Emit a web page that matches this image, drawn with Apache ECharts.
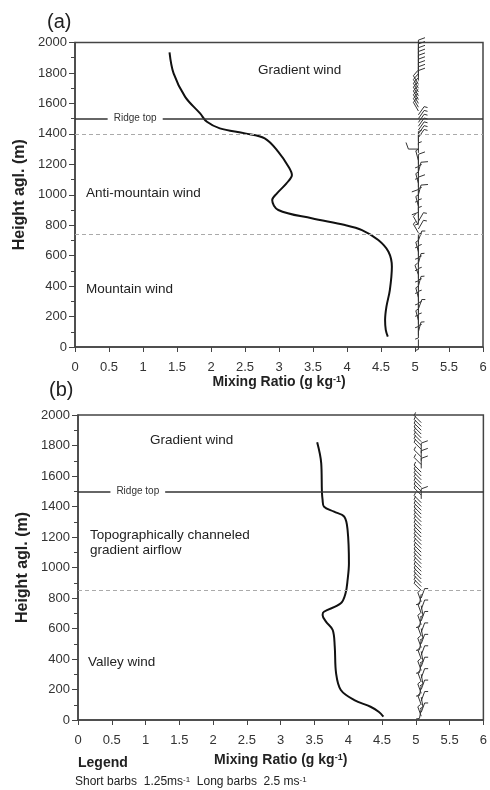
<!DOCTYPE html>
<html><head><meta charset="utf-8">
<script src="https://cdn.jsdelivr.net/npm/echarts@6/dist/echarts.min.js"></script>
<style>html,body{margin:0;padding:0;background:#fff}#c{width:490px;height:790px}</style>
</head><body><div id="c"></div>
<script>
// ---- Data ----
// Panel (a): mixing-ratio profile
var heightA = [68,112,177,265,374,527,626,703,768,801,845,900,965,1009,1075,1129,1184,1282,1370,1403,1436,1479,1534,1643,1797,1935];
var mixA    = [4.60,4.57,4.56,4.58,4.63,4.66,4.61,4.46,4.22,3.97,3.48,2.99,2.90,2.97,3.11,3.19,3.14,2.99,2.79,2.50,2.13,1.94,1.84,1.62,1.45,1.39];
// Panel (b): mixing-ratio profile
var heightB = [22,54,87,131,197,306,481,590,645,689,710,765,831,918,1027,1246,1333,1366,1399,1443,1500,1683,1821];
var mixB    = [4.52,4.45,4.33,4.09,3.89,3.82,3.80,3.77,3.67,3.62,3.64,3.89,3.96,3.99,4.01,3.99,3.94,3.79,3.64,3.62,3.61,3.60,3.54];

// Wind barbs panel (a): height (m), direction (deg, 0 = staff up), speed (m/s)
var barbHA = [50,75,100,125,150,175,200,225,250,275,300,325,350,375,400,425,450,475,500,525,550,575,600,625,650,675,700,725,750,775,800,825,850,875,900,925,950,975,1000,1025,1050,1075,1100,1125,1150,1175,1200,1225,1250,1275,1300,1325,1350,1375,1400,1425,1450,1475,1500,1525,1550,1575,1600,1625,1650,1675,1700,1725,1750,1775,1800,1825,1850,1875,1900,1925,1950];
var barbDirA = [180,0,15,180,0,345,180,0,20,180,0,345,180,0,15,180,0,340,180,0,15,180,0,345,180,0,20,180,330,30,330,30,0,180,0,345,180,0,15,180,0,345,180,0,15,180,0,345,180,0,270,0,0,35,35,35,35,35,35,35,330,330,330,330,330,330,330,330,0,0,0,0,0,0,0,0,0];
var barbSpdA = [1.25,1.25,1.25,1.25,1.25,1.25,1.25,1.25,1.25,1.25,1.25,1.25,1.25,1.25,1.25,1.25,1.25,1.25,1.25,1.25,1.25,1.25,1.25,1.25,1.25,1.25,1.25,1.25,1.25,1.25,1.25,1.25,1.25,1.25,1.25,1.25,2.5,1.25,2.5,1.25,2.5,1.25,2.5,1.25,2.5,1.25,2.5,1.25,1.25,1.25,2.5,1.25,1.25,1.25,1.25,1.25,1.25,1.25,1.25,1.25,2.5,2.5,2.5,2.5,2.5,2.5,2.5,2.5,2.5,2.5,2.5,2.5,2.5,2.5,2.5,2.5,2.5];
// Wind barbs panel (b)
var barbHB = [25,50,75,100,125,150,175,200,225,250,275,300,325,350,375,400,425,450,475,500,525,550,575,600,625,650,675,700,725,750,775,800,825,850,875,900,925,950,975,1000,1025,1050,1075,1100,1125,1150,1175,1200,1225,1250,1275,1300,1325,1350,1375,1400,1425,1450,1475,1500,1525,1550,1575,1600,1625,1650,1675,1700,1725,1750,1775,1800,1825,1850,1875,1900,1925,1950];
var barbDirB = [340,20,190,340,20,170,340,20,190,340,20,170,340,20,190,340,20,170,340,20,190,340,20,170,340,20,190,340,20,170,340,20,190,315,315,315,315,315,315,315,315,315,315,315,315,315,315,315,315,315,315,315,315,315,315,315,315,0,315,315,315,315,315,315,315,0,315,0,315,0,315,315,315,315,315,315,315,315];
var barbSpdB = [1.25,1.25,1.25,1.25,1.25,1.25,1.25,1.25,1.25,1.25,1.25,1.25,1.25,1.25,1.25,1.25,1.25,1.25,1.25,1.25,1.25,1.25,1.25,1.25,1.25,1.25,1.25,1.25,1.25,1.25,1.25,1.25,1.25,1.25,1.25,1.25,1.25,1.25,1.25,1.25,1.25,1.25,1.25,1.25,1.25,1.25,1.25,1.25,1.25,1.25,1.25,1.25,1.25,1.25,1.25,1.25,1.25,2.5,1.25,1.25,1.25,1.25,1.25,1.25,1.25,2.5,1.25,2.5,1.25,2.5,1.25,1.25,1.25,1.25,1.25,1.25,1.25,1.25];

var xTicks = [0,0.5,1,1.5,2,2.5,3,3.5,4,4.5,5,5.5,6];
var ridgeTop = 1500;
var dashedA = [1395, 742];
var dashedB = [850];

// ---- Config ----
var FONT = 'Liberation Sans, Arial, sans-serif';
var AXC = '#444';
var barbXA = 5.05, barbXB = 5.08;

function zipXY(xs, ys){ return xs.map(function(v,i){ return [v, ys[i]]; }); }
function barbData(x, hs, ds, ss){ return hs.map(function(h,i){ return [x, h, ds[i], ss[i]]; }); }

function barbItem(params, api){
  var p = api.coord([api.value(0), api.value(1)]);
  var d = api.value(2) * Math.PI / 180;
  var spd = api.value(3);
  var L = 10;
  var ux = Math.sin(d), uy = -Math.cos(d);
  var ex = p[0] + ux * L, ey = p[1] + uy * L;
  var fl = spd >= 2.5 ? 7 : 3.5;
  var a = 70 * Math.PI / 180;
  var fx = ux * Math.cos(a) - uy * Math.sin(a), fy = ux * Math.sin(a) + uy * Math.cos(a);
  return {
    type: 'polyline',
    shape: { points: [[p[0], p[1]], [ex, ey], [ex + fx * fl, ey + fy * fl]] },
    style: { stroke: '#333', lineWidth: 1, fill: null }
  };
}

function ridgeMark(){
  return [
    [{coord:[0, ridgeTop]}, {coord:[0.48, ridgeTop]}],
    [{coord:[1.29, ridgeTop]}, {coord:[6, ridgeTop]}]
  ];
}

function xAxisCfg(idx, gap){
  return {
    gridIndex: idx, type: 'value', min: 0, max: 6, interval: 0.5,
    name: 'Mixing Ratio (g kg{sup|-1})', nameLocation: 'middle', nameGap: gap,
    nameTextStyle: { fontFamily: FONT, fontSize: 14, fontWeight: 'bold', color: '#222',
      rich: { sup: { fontFamily: FONT, fontSize: 9, fontWeight: 'bold', color: '#222', verticalAlign: 'top', padding: [0,0,6,0] } } },
    axisLine: { show: true, onZero: false, lineStyle: { color: AXC, width: 1.5 } },
    axisTick: { show: true, length: 5, lineStyle: { color: AXC } },
    axisLabel: { fontFamily: FONT, fontSize: 13, color: '#333', margin: 14,
      formatter: function(v){ return xTicks.indexOf(v) >= 0 ? String(v) : ''; } },
    splitLine: { show: false }
  };
}
function yAxisCfg(idx){
  return {
    gridIndex: idx, type: 'value', min: 0, max: 2000, interval: 200,
    name: 'Height agl. (m)', nameLocation: 'middle', nameGap: 47, nameRotate: 90,
    nameTextStyle: { fontFamily: FONT, fontSize: 16, fontWeight: 'bold', color: '#222' },
    axisLine: { show: true, lineStyle: { color: AXC, width: 1.5 } },
    axisTick: { show: true, length: 6, lineStyle: { color: AXC } },
    minorTick: { show: true, splitNumber: 2, length: 4, lineStyle: { color: AXC } },
    axisLabel: { fontFamily: FONT, fontSize: 13, color: '#333', margin: 8,
      formatter: function(v){ return String(v); } },
    splitLine: { show: false }
  };
}

function profileSeries(idx, data, dashed){
  var ml = ridgeMark();
  dashed.forEach(function(h){
    ml.push({ yAxis: h, lineStyle: { type: [4,3], color: '#aaa', width: 1 } });
  });
  return {
    type: 'line', xAxisIndex: idx, yAxisIndex: idx, data: data,
    smooth: 0.35, symbol: 'none', lineStyle: { color: '#111', width: 2 },
    z: 3, silent: true,
    markLine: { silent: true, symbol: 'none', label: { show: false },
      lineStyle: { color: '#333', width: 1.5, type: 'solid' }, data: ml },
    markPoint: { silent: true, symbol: 'circle', symbolSize: 0,
      label: { show: true, position: 'inside', formatter: 'Ridge top', fontFamily: FONT, fontSize: 10, color: '#333' },
      data: [{ coord: [0.885, ridgeTop] }] }
  };
}

function txt(x, y, s, size, bold){
  return { type: 'text', x: x, y: y, style: { text: s, fontFamily: FONT, fontSize: size,
    fontWeight: bold ? 'bold' : 'normal', fill: '#222', verticalAlign: 'middle', lineHeight: 15 } };
}

var chart = echarts.init(document.getElementById('c'), null, { renderer: 'canvas' });
chart.setOption({
  animation: false,
  backgroundColor: '#fff',
  grid: [
    { left: 75, top: 42.5, width: 408, height: 304.5, show: true, borderColor: AXC, borderWidth: 1.5, backgroundColor: 'transparent' },
    { left: 78, top: 415, width: 407, height: 305, show: true, borderColor: AXC, borderWidth: 1.5, backgroundColor: 'transparent' }
  ],
  xAxis: [ xAxisCfg(0, 27), xAxisCfg(1, 33) ],
  yAxis: [ yAxisCfg(0), yAxisCfg(1) ],
  series: [
    profileSeries(0, zipXY(mixA, heightA), dashedA),
    profileSeries(1, zipXY(mixB, heightB), dashedB),
    { type: 'custom', xAxisIndex: 0, yAxisIndex: 0, renderItem: barbItem, silent: true,
      data: barbData(barbXA, barbHA, barbDirA, barbSpdA), z: 4 },
    { type: 'custom', xAxisIndex: 1, yAxisIndex: 1, renderItem: barbItem, silent: true,
      data: barbData(barbXB, barbHB, barbDirB, barbSpdB), z: 4 }
  ],
  graphic: [
    txt(47, 22, '(a)', 20, false),
    txt(49, 390, '(b)', 20, false),
    txt(258, 70, 'Gradient wind', 13.5, false),
    txt(86, 193, 'Anti-mountain wind', 13.5, false),
    txt(86, 289, 'Mountain wind', 13.5, false),
    txt(150, 440, 'Gradient wind', 13.5, false),
    txt(90, 535, 'Topographically channeled', 13.5, false),
    txt(90, 550, 'gradient airflow', 13.5, false),
    txt(88, 662, 'Valley wind', 13.5, false),
    txt(78, 763, 'Legend', 14, true),
    { type: 'text', x: 75, y: 782, style: {
      text: 'Short barbs  1.25ms{s|-1}  Long barbs  2.5 ms{s|-1}', fontFamily: FONT, fontSize: 12, fill: '#222',
      verticalAlign: 'middle', rich: { s: { fontFamily: FONT, fontSize: 8, fill: '#222', verticalAlign: 'top', padding: [0,0,5,0] } } } }
  ]
});
</script></body></html>
